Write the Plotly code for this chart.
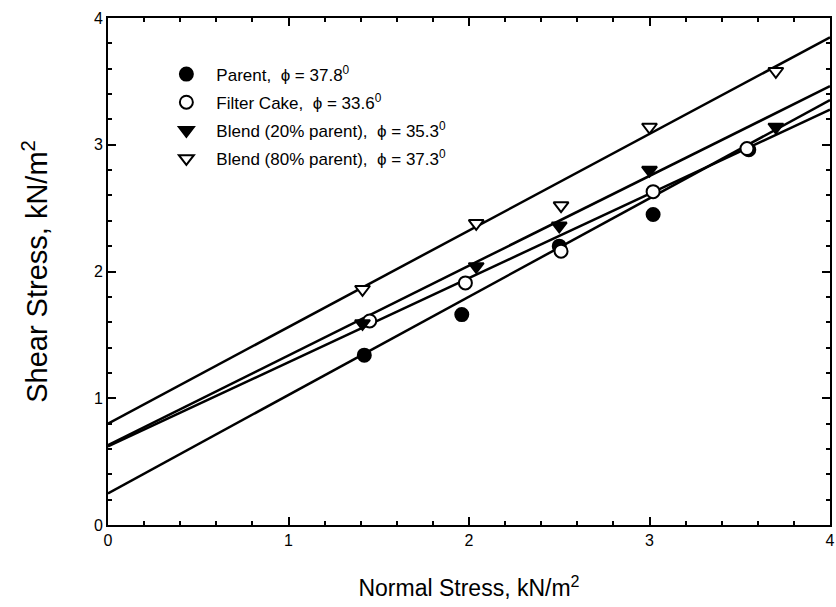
import plotly.graph_objects as go
import math

# Data
parent_x = [1.42, 1.96, 2.50, 3.02, 3.55]
parent_y = [1.34, 1.66, 2.20, 2.45, 2.96]
cake_x = [1.45, 1.98, 2.51, 3.02, 3.54]
cake_y = [1.61, 1.91, 2.16, 2.63, 2.97]
b20_x = [1.41, 2.04, 2.50, 3.00, 3.70]
b20_y = [1.59, 2.04, 2.36, 2.80, 3.14]
b80_x = [1.41, 2.04, 2.51, 3.00, 3.70]
b80_y = [1.86, 2.38, 2.52, 3.14, 3.58]

names = ["Parent,  ϕ = 37.8<sup>0</sup>", "Filter Cake,  ϕ = 33.6<sup>0</sup>",
         "Blend (20% parent),  ϕ = 35.3<sup>0</sup>", "Blend (80% parent),  ϕ = 37.3<sup>0</sup>"]
phi_deg = [37.8, 33.6, 35.3, 37.3]
cohesion = [0.25, 0.62, 0.63, 0.80]
line_x = [0, 4]

FONT = "Liberation Sans, Arial"
fig = go.Figure()

series = [(parent_x, parent_y, "circle", "black"),
          (cake_x, cake_y, "circle", "white"),
          (b20_x, b20_y, "triangle-down", "black"),
          (b80_x, b80_y, "triangle-down", "white")]

for i in range(4):
    slope = math.tan(math.radians(phi_deg[i]))
    fig.add_trace(go.Scatter(x=line_x, y=[cohesion[i] + slope * v for v in line_x],
                             mode="lines", line=dict(color="black", width=2.5),
                             showlegend=False, hoverinfo="skip"))

for i, (xs, ys, sym, fill) in enumerate(series):
    fig.add_trace(go.Scatter(x=xs, y=ys, mode="markers", name=names[i],
                             legendgroup="g%d" % i,
                             marker=dict(symbol=sym, size=13, color=fill,
                                         line=dict(color="black", width=2)),
                             cliponaxis=False))

axis_common = dict(showline=True, linecolor="black", linewidth=2, mirror="allticks",
                   ticks="inside", ticklen=8, tickwidth=2, tickcolor="black",
                   showgrid=False, zeroline=False, dtick=1,
                   ticklabeloverflow="allow", automargin=False,
                   tickfont=dict(family=FONT, size=16, color="black"),
                   minor=dict(dtick=0.2, ticks="inside", ticklen=4, tickwidth=1.5,
                              tickcolor="black", showgrid=False))

fig.update_xaxes(range=[0, 4], title=dict(text="Normal Stress, kN/m<sup>2</sup>",
                 font=dict(family=FONT, size=23, color="black"), standoff=32),
                 **axis_common)
fig.update_yaxes(range=[0, 4], title=dict(text="Shear Stress, kN/m<sup>2</sup>",
                 font=dict(family=FONT, size=29, color="black"), standoff=38),
                 **axis_common)

fig.update_layout(width=836, height=607, margin=dict(l=108, r=6, t=18, b=82),
                  plot_bgcolor="white", paper_bgcolor="white",
                  legend=dict(x=0.067, y=0.924, xanchor="left", yanchor="top",
                              bgcolor="rgba(0,0,0,0)", itemwidth=50,
                              tracegroupgap=3,
                              font=dict(family=FONT, size=17, color="black")),
                  font=dict(family=FONT, color="black"))

fig.write_html("out.html")
